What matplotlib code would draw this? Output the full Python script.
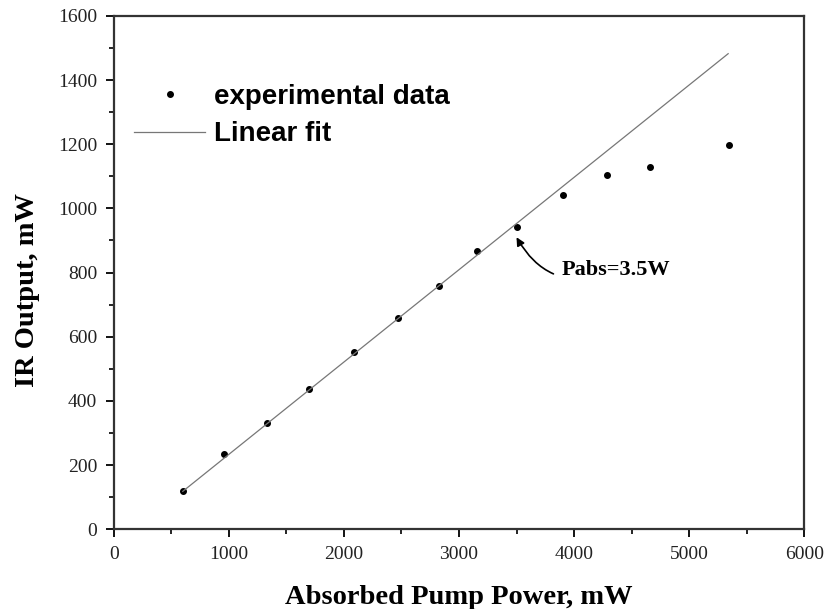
import matplotlib
matplotlib.use("Agg")
import matplotlib.pyplot as plt
from matplotlib.ticker import MultipleLocator

# absorbed pump power (mW) and IR output (mW)
pump_mw = [600, 957, 1328, 1698, 2087, 2467, 2826, 3157, 3501, 3901, 4283, 4661, 5350]
ir_mw = [118, 234, 330, 437, 553, 657, 758, 867, 941, 1042, 1104, 1130, 1196]

# linear fit, drawn between these end points
fit_x = [600, 5339]
fit_y = [118, 1482]

serif = "Liberation Serif"
sans = "Liberation Sans"

fig = plt.figure(figsize=(8.24, 6.09), dpi=100)
ax = fig.add_axes([0.138, 0.131, 0.838, 0.843])

ax.plot(pump_mw, ir_mw, "o", color="black", markersize=4, label="experimental data")
ax.plot(fit_x, fit_y, "-", color="#777777", linewidth=0.9, label="Linear fit")

ax.set_xlim(0, 6000)
ax.set_ylim(0, 1600)
ax.xaxis.set_major_locator(MultipleLocator(1000))
ax.xaxis.set_minor_locator(MultipleLocator(500))
ax.yaxis.set_major_locator(MultipleLocator(200))
ax.yaxis.set_minor_locator(MultipleLocator(100))
ax.tick_params(which="major", direction="out", length=6, width=1.3, labelsize=14, pad=6)
ax.tick_params(which="minor", direction="out", length=3.5, width=1.2)
for lab in ax.get_xticklabels() + ax.get_yticklabels():
    lab.set_fontfamily(serif)
    lab.set_color("#222222")
for sp in ax.spines.values():
    sp.set_linewidth(1.6)
    sp.set_color("#333333")

ax.set_xlabel("Absorbed Pump Power, mW", fontfamily=serif, fontweight="bold", fontsize=20.5, labelpad=16)
ax.set_ylabel("IR Output, mW", fontfamily=serif, fontweight="bold", fontsize=20.5)
ax.yaxis.set_label_coords(-0.107, 0.466)

leg = ax.legend(loc="upper left", bbox_to_anchor=(0.03, 0.867), frameon=False,
                borderaxespad=0, borderpad=0, handlelength=2.55, handletextpad=0.3,
                labelspacing=0.4, prop={"family": sans, "weight": "bold", "size": 20})

ax.annotate("Pabs=3.5W", xy=(3500, 910), xytext=(3890, 808),
            ha="left", va="center", fontfamily=serif, fontweight="bold", fontsize=16,
            arrowprops=dict(arrowstyle="-|>", connectionstyle="arc3,rad=-0.45",
                            color="black", lw=1.2, shrinkA=4, shrinkB=0,
                            mutation_scale=12))

fig.savefig("out.png", dpi=100)
